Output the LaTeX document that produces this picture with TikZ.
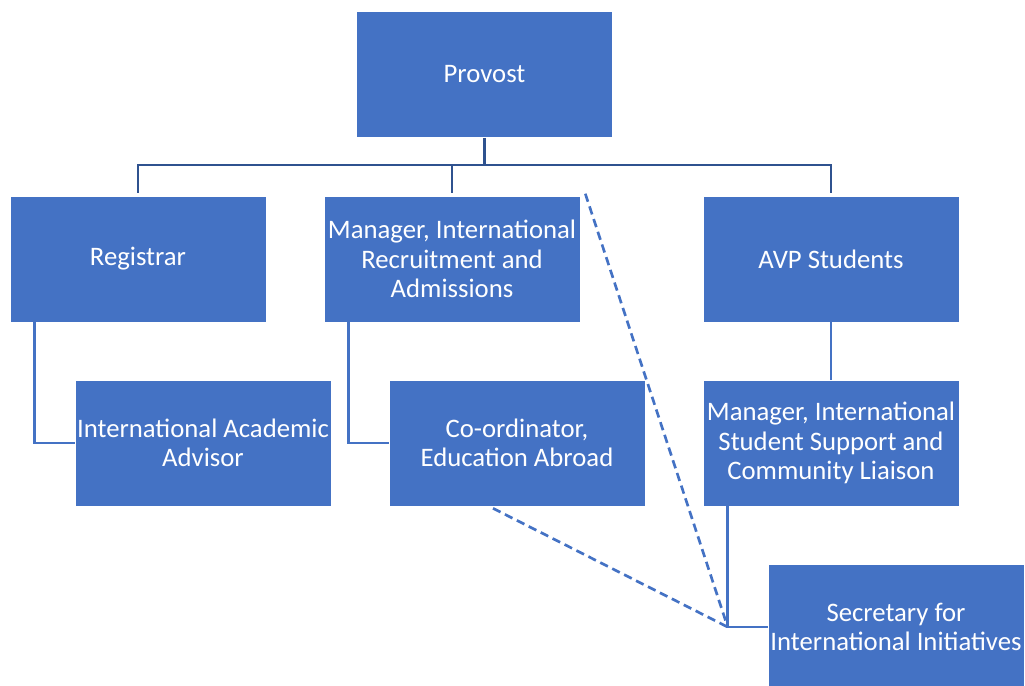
\documentclass[tikz,border=0pt]{standalone}
\usepackage{fontspec}
\setmainfont{Carlito}
\usepackage{tikz}
\usetikzlibrary{calc}

\definecolor{boxblue}{HTML}{4472C4}
\definecolor{linkblue}{HTML}{2F528F}

\begin{document}
\begin{tikzpicture}[x=0.025cm,y=-0.025cm,
  unit/.style={rectangle,fill=boxblue,draw=white,line width=0.4pt,
    minimum width=6.4cm,minimum height=3.15cm,inner sep=1pt,
    text=white,align=center,font=\fontsize{19}{21}\selectfont},
  toplink/.style={draw=linkblue,line width=1.9pt},
  sublink/.style={draw=boxblue,line width=1.9pt},
  dotlink/.style={draw=boxblue,line width=1.9pt,dash pattern=on 6pt off 3.5pt}]
\useasboundingbox (0,0) rectangle (1025,685);
% boxes
\node[unit] (provost) at (484.5,74.5) {Provost};
\node[unit] (reg) at (138,259) {Registrar};
\node[unit] (mgr) at (452,259) {Manager, International\\Recruitment and\\Admissions};
\node[unit] (avp) at (831,259) {AVP Students};
\node[unit] (adv) at (203,443) {International Academic\\Advisor};
\node[unit] (coord) at (517,443) {Co-ordinator,\\Education Abroad};
\node[unit] (iss) at (831,443) {Manager, International\\Student Support and\\Community Liaison};
\node[unit] (sec) at (896,627) {Secretary for\\International Initiatives};
% provost to second row
\coordinate (bus) at (484.5,165);
\draw[toplink] (provost.south) -- (bus);
\draw[toplink] (reg.north) ++(0,-3) |- (bus) -| ($(avp.north)+(0,-3)$);
\draw[toplink] (mgr.north) ++(0,-3) -- ++(0,-28);
% lower links
\draw[sublink] ($(reg.south west)+(25,0)$) |- (adv.west);
\draw[sublink] ($(mgr.south west)+(25,0)$) |- (coord.west);
\draw[sublink] (avp.south) -- (iss.north);
\coordinate (elbow) at ($(iss.south west)+(25,0)$);
\draw[sublink] (elbow) |- (sec.west);
\coordinate (knee) at (elbow |- sec.west);
% dotted reporting lines
\draw[dotlink] ($(mgr.north east)+(5,-2)$) -- (knee);
\draw[dotlink] ($(coord.south)+(-24,2)$) -- (knee);
\end{tikzpicture}
\end{document}
